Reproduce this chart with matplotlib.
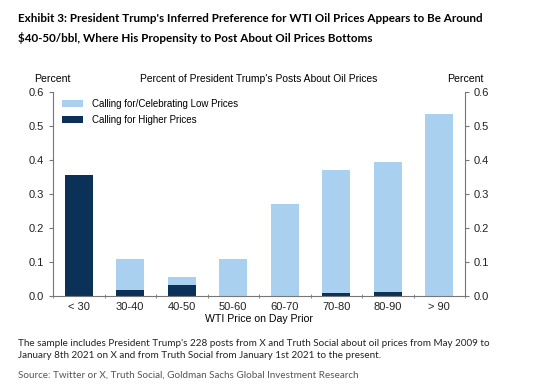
import numpy as np
import matplotlib.pyplot as plt

plt.rcParams['font.family'] = ['Liberation Sans', 'DejaVu Sans']

categories = ['< 30', '30-40', '40-50', '50-60', '60-70', '70-80', '80-90', '> 90']
higher = [0.355, 0.018, 0.032, 0.0, 0.0, 0.008, 0.013, 0.0]
total = [0.355, 0.110, 0.057, 0.110, 0.272, 0.370, 0.395, 0.535]
low = [t - h for t, h in zip(total, higher)]
yticks = [0.0, 0.1, 0.2, 0.3, 0.4, 0.5, 0.6]

light = '#A9D1EF'
dark = '#0B3159'
grey = '#777777'

fig = plt.figure(figsize=(5.6, 3.91), dpi=100)
ax = fig.add_axes([53/560, 1 - 296/391, 412/560, 204/391])

x = np.arange(len(categories))
ax.bar(x, higher, width=0.55, color=dark, label='Calling for Higher Prices', zorder=2)
ax.bar(x, low, width=0.55, bottom=higher, color=light,
       label='Calling for/Celebrating Low Prices', zorder=2)

ax.set_xlim(-0.5, 7.5)
ax.set_ylim(0, 0.6)
ax.set_yticks(yticks)
ax.set_yticklabels([f'{v:.1f}' for v in yticks])
ax.tick_params(axis='y', which='both', labelsize=8, colors='#222222',
               left=True, right=True, labelleft=True, labelright=True,
               length=3, color=grey)
ax.set_xticks(x)
ax.set_xticklabels(categories)
ax.set_xticks(np.arange(-0.5, 8, 1), minor=True)
ax.tick_params(axis='x', which='major', length=0, labelsize=8, colors='#222222', pad=4)
ax.tick_params(axis='x', which='minor', length=3, color=grey, direction='inout')
for s in ['left', 'right', 'bottom']:
    ax.spines[s].set_color(grey)
    ax.spines[s].set_linewidth(0.8)
ax.spines['top'].set_visible(False)

ax.set_xlabel('WTI Price on Day Prior', fontsize=7.6, labelpad=2)

h, l = ax.get_legend_handles_labels()
ax.legend(h[::-1], l[::-1], loc='upper left', frameon=False, fontsize=7,
          handlelength=2.2, handleheight=0.75, handletextpad=0.9,
          borderaxespad=0.0, borderpad=0.0, labelspacing=0.65,
          bbox_to_anchor=(9/412, 1 - 7/204))

fig.text(52/560, 1 - 79/391, 'Percent', ha='center', va='center', fontsize=7.6)
fig.text(465/560, 1 - 79/391, 'Percent', ha='center', va='center', fontsize=7.6)
fig.text(259/560, 1 - 79/391, "Percent of President Trump's Posts About Oil Prices",
         ha='center', va='center', fontsize=7.4)

title_font = ['Lato', 'DejaVu Sans']
fig.text(18/560, 1 - 18/391,
         "Exhibit 3: President Trump's Inferred Preference for WTI Oil Prices Appears to Be Around",
         ha='left', va='center', fontsize=8.4, fontweight='bold', family=title_font)
fig.text(18/560, 1 - 38/391,
         "$40-50/bbl, Where His Propensity to Post About Oil Prices Bottoms",
         ha='left', va='center', fontsize=8.4, fontweight='bold', family=title_font)

fig.text(18/560, 1 - 344/391,
         "The sample includes President Trump's 228 posts from X and Truth Social about oil prices from May 2009 to",
         ha='left', va='center', fontsize=7.1, family=title_font, color='#222222')
fig.text(18/560, 1 - 356/391,
         "January 8th 2021 on X and from Truth Social from January 1st 2021 to the present.",
         ha='left', va='center', fontsize=7.1, family=title_font, color='#222222')
fig.text(18/560, 1 - 375/391,
         "Source: Twitter or X, Truth Social, Goldman Sachs Global Investment Research",
         ha='left', va='center', fontsize=7.1, family=title_font, color='#555555')

fig.savefig('out.png', dpi=100)
